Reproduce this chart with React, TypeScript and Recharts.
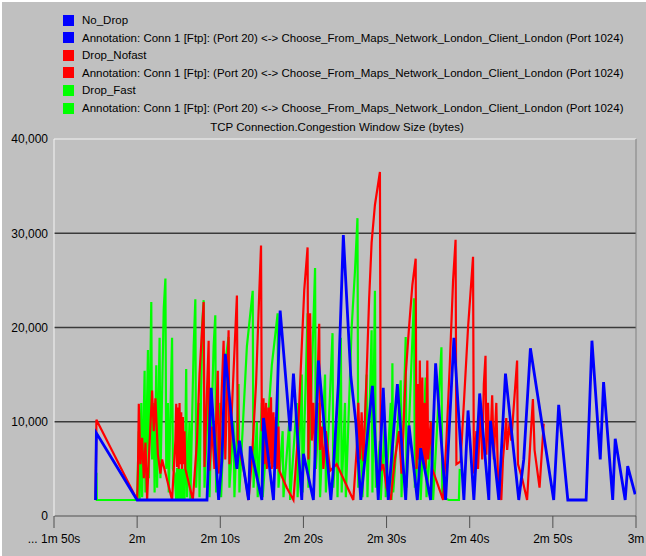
import React from "react";
import { LineChart, Line, XAxis, YAxis, ReferenceLine } from "recharts";

// TCP congestion window samples: [time in seconds, window size in bytes]
const NO_DROP: [number, number][] = [
  [115.0, 1700], [115.1, 8800], [120.0, 1700], [128.4, 1700], [128.6, 6200], [128.9, 13600],
  [129.8, 1700], [130.2, 6000], [130.6, 17200], [131.6, 8000], [132.0, 5000], [132.3, 8000],
  [133.4, 1700], [133.6, 7400], [135.0, 1700], [135.2, 10400], [136.4, 1700], [136.7, 9000],
  [137.2, 21800], [138.4, 9000], [138.8, 15100], [139.8, 1700], [140.0, 6600], [141.2, 1700],
  [141.5, 9000], [141.8, 16500], [143.3, 1700], [143.6, 5000], [144.2, 14000], [144.8, 29800],
  [145.7, 14800], [146.3, 10000], [146.9, 1700], [148.3, 13800], [149.0, 1700], [149.6, 13600],
  [150.2, 1700], [151.3, 14000], [152.3, 1700], [152.7, 9600], [153.7, 1700], [154.1, 7200],
  [155.3, 1700], [155.9, 16200], [157.1, 1700], [158.1, 18900], [159.3, 1700], [159.8, 11200],
  [160.5, 1700], [161.2, 13000], [162.3, 1700], [162.5, 10100], [163.5, 1700], [164.3, 15100],
  [165.9, 1700], [166.5, 6000], [167.3, 17800], [170.1, 1700], [170.7, 11800], [171.8, 1700],
  [174.0, 1700], [174.7, 18600], [175.7, 6000], [176.1, 14200], [177.2, 1700], [177.5, 8200],
  [178.7, 1700], [179.0, 5300], [179.9, 2300],
];

const DROP_NOFAST: [number, number][] = [
  [115.0, 1700], [115.1, 10200], [120.0, 1700], [120.1, 5000], [120.2, 11900], [120.4, 5500],
  [120.6, 8300], [120.8, 4000], [121.0, 7800], [121.2, 1700], [121.4, 6000], [121.8, 13300],
  [122.0, 9000], [122.2, 12500], [122.5, 6500], [122.8, 4500], [123.0, 6000], [124.2, 1700],
  [124.6, 8000], [124.7, 11900], [124.8, 5200], [124.9, 11500], [125.0, 5000], [125.1, 12000],
  [125.2, 5500], [125.3, 11000], [125.4, 5000], [125.5, 10500], [125.6, 5500], [125.7, 9000],
  [125.8, 5000], [126.7, 1700], [127.2, 8000], [127.5, 15000], [128.0, 22700], [128.1, 5200],
  [128.6, 18600], [128.7, 4800], [129.0, 9500], [129.3, 5000], [129.7, 15400], [129.8, 4500],
  [130.4, 18600], [130.6, 6000], [131.0, 19700], [131.1, 5500], [132.0, 23400], [132.1, 8000],
  [133.0, 4000], [133.4, 1700], [133.8, 6000], [134.3, 14000], [134.7, 24000], [134.9, 28700],
  [135.0, 9000], [135.2, 12500], [135.3, 5500], [135.5, 12000], [135.6, 5000], [135.8, 11500],
  [135.9, 5500], [136.1, 12600], [136.2, 5000], [136.4, 11000], [136.5, 5200], [136.7, 10500],
  [136.8, 5000], [137.0, 9500], [137.1, 4800], [138.0, 3000], [138.8, 1700], [139.3, 8000],
  [139.8, 18000], [140.1, 24000], [140.5, 28500], [140.6, 6000], [140.8, 21500], [141.0, 8000],
  [141.2, 12000], [141.4, 6000], [141.9, 20400], [142.0, 7000], [142.2, 9500], [142.4, 5000],
  [142.7, 9000], [143.2, 4800], [144.0, 5500], [146.0, 1700], [146.4, 7000], [146.6, 12000],
  [146.8, 6000], [147.0, 11000], [147.2, 5800], [147.6, 15000], [147.9, 23000], [148.2, 29000],
  [148.6, 33000], [149.2, 36500], [149.3, 4800], [149.6, 5500], [150.0, 3000], [150.5, 1700],
  [151.0, 6000], [151.5, 9000], [151.8, 4500], [152.3, 15000], [152.7, 20000], [153.1, 24500],
  [153.5, 27300], [153.6, 5000], [153.8, 14000], [153.9, 6000], [154.0, 16500], [154.1, 7000],
  [154.3, 14700], [154.4, 5500], [154.6, 12000], [154.7, 5000], [154.9, 16500], [155.0, 6000],
  [155.3, 10000], [155.5, 5000], [156.8, 1700], [157.2, 8000], [157.6, 16000], [158.0, 25000],
  [158.3, 29300], [158.4, 5500], [158.9, 5800], [159.3, 12000], [159.8, 20000], [160.4, 27500],
  [160.5, 4500], [160.8, 9000], [161.0, 5000], [161.3, 11900], [161.5, 6000], [161.7, 14000],
  [161.9, 17000], [162.0, 6500], [162.2, 12000], [162.4, 5500], [162.7, 12800], [162.9, 6000],
  [163.2, 12000], [163.4, 4000], [163.8, 1700], [164.0, 6000], [164.4, 10400], [164.5, 7000],
  [164.8, 10000], [165.0, 8000], [165.7, 16500], [165.8, 5500], [166.3, 4000], [166.9, 1700],
  [167.3, 8000], [167.6, 12400], [167.8, 7000], [168.4, 3000], [168.9, 9800],
];

const DROP_FAST: [number, number][] = [
  [115.0, 1700], [115.1, 4600], [115.15, 1700], [120.0, 1700], [120.2, 9000], [120.3, 1700],
  [120.5, 12000], [120.6, 2000], [120.9, 15400], [121.0, 2500], [121.3, 17600], [121.4, 4000],
  [121.7, 22700], [121.8, 6000], [122.0, 12000], [122.1, 2500], [122.3, 16000], [122.4, 3000],
  [122.7, 18900], [122.8, 4000], [123.2, 22000], [123.4, 25200], [123.5, 5000], [123.7, 12000],
  [123.8, 2500], [124.2, 18900], [124.3, 5000], [124.5, 4500], [124.7, 1700], [124.8, 5100],
  [124.9, 1700], [125.0, 5100], [125.1, 1700], [125.2, 5000], [125.3, 1700], [125.4, 5000],
  [125.5, 1700], [125.6, 5000], [125.7, 1700], [125.9, 15600], [126.0, 2000], [126.3, 10000],
  [126.4, 1700], [126.8, 18000], [127.0, 23000], [127.1, 3000], [127.4, 12000], [127.5, 2000],
  [127.8, 20000], [128.0, 22900], [128.1, 3000], [128.6, 14000], [128.7, 2000], [129.2, 18000],
  [129.4, 21300], [129.5, 2500], [130.0, 12000], [130.1, 2000], [130.7, 17000], [131.0, 19000],
  [131.1, 3000], [131.6, 10000], [131.7, 2000], [132.2, 14000], [132.3, 2500], [133.2, 18000],
  [133.9, 23900], [134.0, 3000], [134.4, 10000], [134.5, 2000], [135.0, 12000], [135.1, 2000],
  [136.2, 16000], [136.9, 21500], [137.0, 3000], [137.5, 9000], [137.6, 2000], [138.3, 10000],
  [138.4, 1700], [139.2, 12000], [139.3, 2000], [139.8, 15000], [139.9, 2500], [140.5, 21500],
  [140.6, 3000], [141.4, 26300], [141.5, 5000], [141.9, 12000], [142.0, 2000], [142.6, 15000],
  [142.7, 2500], [143.5, 19400], [143.6, 3000], [144.0, 10000], [144.1, 2000], [144.5, 18900],
  [144.6, 2500], [145.0, 12000], [145.1, 2000], [145.8, 20000], [146.2, 26000], [146.5, 31600],
  [146.6, 3000], [147.0, 9000], [147.1, 2000], [147.6, 15000], [147.7, 2000], [148.2, 19700],
  [148.3, 2500], [148.6, 23900], [148.7, 3000], [149.2, 8000], [149.3, 1700], [149.8, 10000],
  [149.9, 2000], [150.5, 12000], [150.6, 1700], [150.7, 16200], [150.8, 2500], [151.7, 14400],
  [151.8, 2000], [152.3, 19000], [152.4, 3000], [153.3, 23100], [153.4, 3000], [154.0, 8000],
  [154.1, 1700], [154.7, 14700], [154.8, 2000], [155.5, 10000], [155.6, 1700], [156.6, 17900],
  [156.7, 2000], [157.5, 1700], [158.7, 1700], [158.8, 5000],
];

const X_TICKS = [110, 120, 130, 140, 150, 160, 170, 180];
const X_TICK_LABELS = ["... 1m 50s", "2m", "2m 10s", "2m 20s", "2m 30s", "2m 40s", "2m 50s", "3m"];
const Y_TICKS = [0, 10000, 20000, 30000, 40000];
const GRID_VALUES = [10000, 20000, 30000];

const ANNOTATION =
  "Annotation: Conn 1 [Ftp]: (Port 20) <-> Choose_From_Maps_Network_London_Client_London (Port 1024)";
const LEGEND_ITEMS = [
  { label: "No_Drop", color: "#0000ff" },
  { label: ANNOTATION, color: "#0000ff" },
  { label: "Drop_Nofast", color: "#ff0000" },
  { label: ANNOTATION, color: "#ff0000" },
  { label: "Drop_Fast", color: "#00ff00" },
  { label: ANNOTATION, color: "#00ff00" },
];
const TITLE = "TCP Connection.Congestion Window Size (bytes)";

const toPoints = (rows: [number, number][]) => rows.map(([t, v]) => ({ t, v }));

const FONT = "'Liberation Sans', Arial, sans-serif";

export default function App() {
  return (
    <div
      style={{
        position: "absolute",
        left: 0,
        top: 0,
        width: 646,
        height: 556,
        background: "#c0c0c0",
        borderTop: "2px solid #ffffff",
        borderLeft: "2px solid #ffffff",
        boxSizing: "border-box",
        fontFamily: FONT,
        overflow: "hidden",
      }}
    >
      <div style={{ position: "absolute", left: 61, top: 10 }}>
        {LEGEND_ITEMS.map((item, i) => (
          <div
            key={i}
            style={{
              position: "absolute",
              left: 0,
              top: i * 17.6,
              height: 16,
              display: "flex",
              alignItems: "center",
              whiteSpace: "nowrap",
            }}
          >
            <span
              style={{
                display: "inline-block",
                width: 11,
                height: 11,
                background: item.color,
                marginRight: 8,
              }}
            />
            <span style={{ fontSize: 11.5, color: "#000" }}>{item.label}</span>
          </div>
        ))}
      </div>
      <div
        style={{
          position: "absolute",
          left: 0,
          width: 670,
          top: 119,
          textAlign: "center",
          fontSize: 11.5,
          color: "#000",
          whiteSpace: "nowrap",
        }}
      >
        {TITLE}
      </div>
      <div style={{ position: "absolute", left: -2, top: -2 }}>
        <LineChart width={646} height={556} margin={{ top: 139, right: 10, bottom: 0, left: 0 }}>
          <XAxis
            type="number"
            dataKey="t"
            domain={[110, 180]}
            ticks={X_TICKS}
            allowDataOverflow
            tickFormatter={(v: number) => X_TICK_LABELS[X_TICKS.indexOf(v)] ?? ""}
            height={40}
            tickSize={12}
            tickMargin={6}
            stroke="#505050"
            tick={{ fill: "#000", fontSize: 12, fontFamily: FONT }}
          />
          <YAxis
            type="number"
            domain={[0, 40000]}
            ticks={Y_TICKS}
            allowDataOverflow
            width={54}
            tickLine={false}
            tickSize={4}
            tickMargin={2}
            axisLine={{ stroke: "#f4f4f4" }}
            tickFormatter={(v: number) => v.toLocaleString("en-US")}
            tick={{ fill: "#000", fontSize: 12, fontFamily: FONT }}
          />
          {GRID_VALUES.map((g) => (
            <ReferenceLine key={g} y={g} stroke="#3a3a3a" strokeWidth={1.6} />
          ))}
          <ReferenceLine y={40000} stroke="#f4f4f4" strokeWidth={1} />
          <ReferenceLine x={180} stroke="#808080" strokeWidth={1} />
          <Line
            data={toPoints(DROP_FAST)}
            dataKey="v"
            type="linear"
            stroke="#00ff00"
            strokeWidth={2.2}
            dot={false}
            isAnimationActive={false}
          />
          <Line
            data={toPoints(DROP_NOFAST)}
            dataKey="v"
            type="linear"
            stroke="#ff0000"
            strokeWidth={2.2}
            dot={false}
            isAnimationActive={false}
          />
          <Line
            data={toPoints(NO_DROP)}
            dataKey="v"
            type="linear"
            stroke="#0000ff"
            strokeWidth={2.8}
            dot={false}
            isAnimationActive={false}
          />
        </LineChart>
      </div>
    </div>
  );
}
